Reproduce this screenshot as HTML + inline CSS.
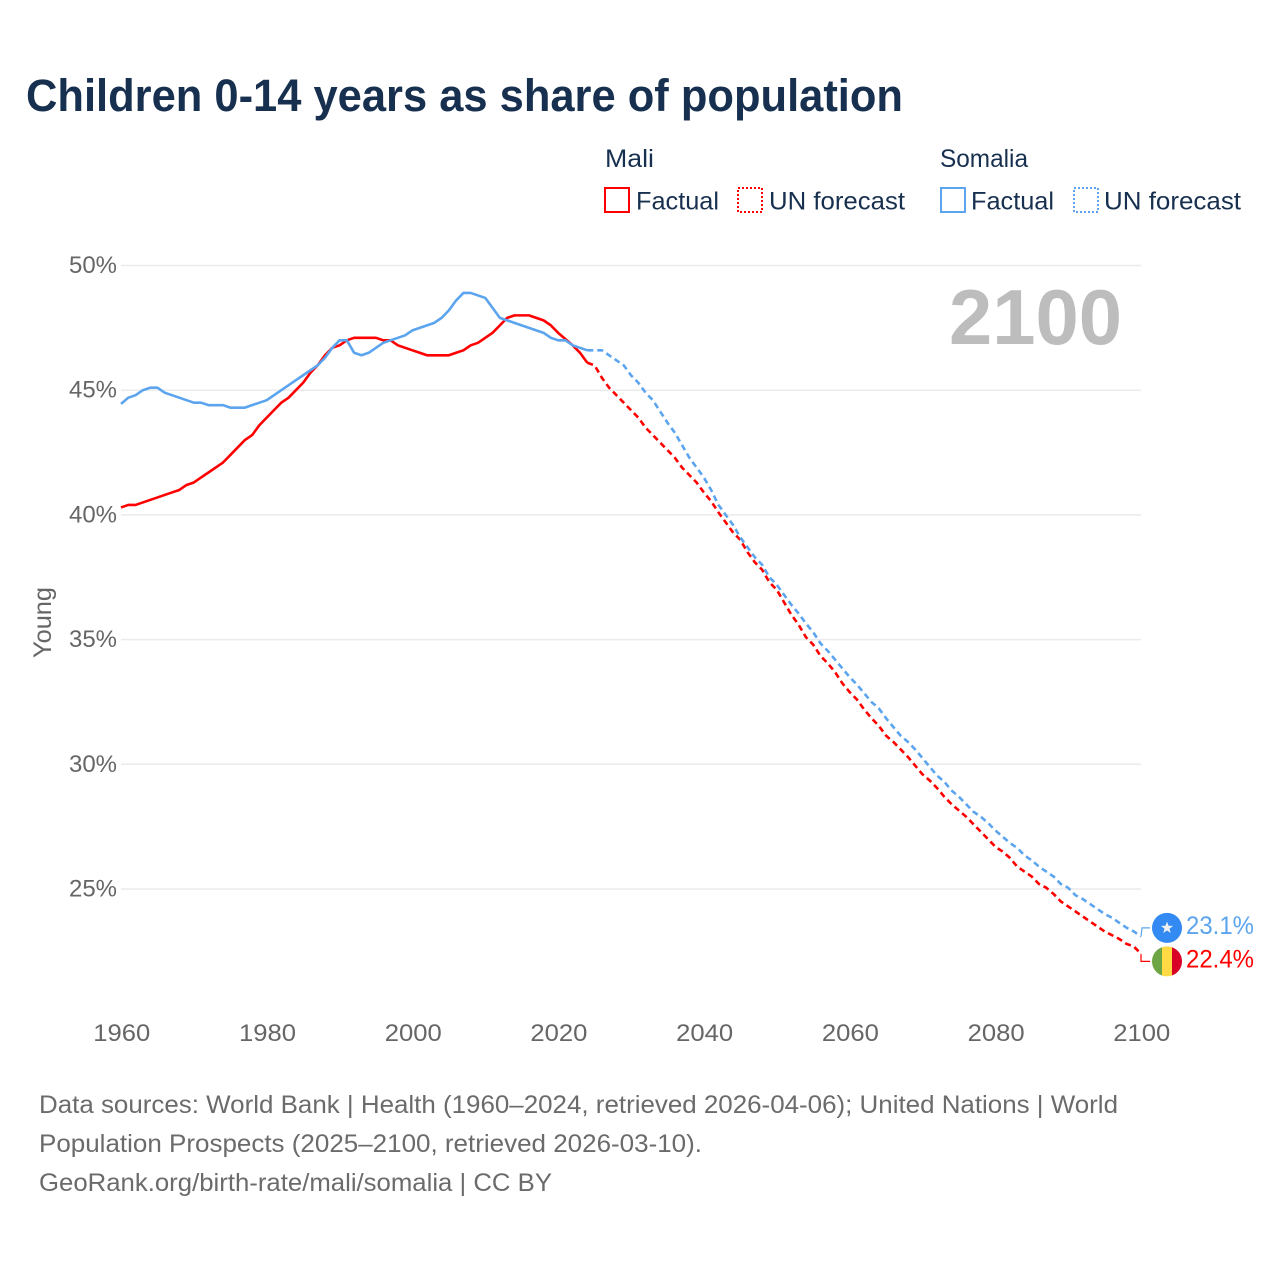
<!DOCTYPE html>
<html lang="en">
<head>
<meta charset="utf-8">
<title>Children 0-14 years as share of population</title>
<style>
html,body{margin:0;padding:0;background:#fff;width:1280px;height:1280px;overflow:hidden}
svg{display:block;font-family:"Liberation Sans",sans-serif}
</style>
</head>
<body>
<svg id="chart" xmlns="http://www.w3.org/2000/svg" width="1280" height="1280" viewBox="0 0 1280 1280">
  <rect x="0" y="0" width="1280" height="1280" fill="#ffffff"/>
  <text x="26" y="111" font-size="45" font-weight="700" fill="#18304f" textLength="877" lengthAdjust="spacingAndGlyphs">Children 0-14 years as share of population</text>

  <g font-size="25" fill="#18304f">
    <text x="605" y="167" textLength="49" lengthAdjust="spacingAndGlyphs">Mali</text>
    <text x="940" y="167" textLength="88" lengthAdjust="spacingAndGlyphs">Somalia</text>
    <rect x="605" y="188" width="24" height="24" fill="none" stroke="#ff0000" stroke-width="2"/>
    <text x="636" y="209.5" textLength="83" lengthAdjust="spacingAndGlyphs">Factual</text>
    <rect x="738" y="188" width="24" height="24" fill="none" stroke="#ff0000" stroke-width="2" stroke-dasharray="2 2"/>
    <text x="769" y="209.5" textLength="136" lengthAdjust="spacingAndGlyphs">UN forecast</text>
    <rect x="941" y="188" width="24" height="24" fill="none" stroke="#5ca5ee" stroke-width="2"/>
    <text x="971" y="209.5" textLength="83" lengthAdjust="spacingAndGlyphs">Factual</text>
    <rect x="1074" y="188" width="24" height="24" fill="none" stroke="#5ca5ee" stroke-width="2" stroke-dasharray="2 2"/>
    <text x="1104" y="209.5" textLength="137" lengthAdjust="spacingAndGlyphs">UN forecast</text>
  </g>

  <g id="grid"></g>
  <g id="yticks"></g>
  <g id="xticks"></g>
  <text transform="translate(51,658) rotate(-90)" font-size="25" fill="#666666" textLength="71" lengthAdjust="spacingAndGlyphs">Young</text>
  <text x="949" y="344" font-size="78" font-weight="700" fill="#bdbdbd" textLength="173" lengthAdjust="spacingAndGlyphs">2100</text>
  <g id="series"></g>
  <g id="ends"></g>

  <g font-size="25" fill="#6b6b6b">
    <text x="39" y="1113" textLength="1079" lengthAdjust="spacingAndGlyphs">Data sources: World Bank | Health (1960–2024, retrieved 2026-04-06); United Nations | World</text>
    <text x="39" y="1152" textLength="663" lengthAdjust="spacingAndGlyphs">Population Prospects (2025–2100, retrieved 2026-03-10).</text>
    <text x="39" y="1191" textLength="513" lengthAdjust="spacingAndGlyphs">GeoRank.org/birth-rate/mali/somalia | CC BY</text>
  </g>
</svg>
<script>
const factualYears = [1960,1961,1962,1963,1964,1965,1966,1967,1968,1969,
  1970,1971,1972,1973,1974,1975,1976,1977,1978,1979,
  1980,1981,1982,1983,1984,1985,1986,1987,1988,1989,
  1990,1991,1992,1993,1994,1995,1996,1997,1998,1999,
  2000,2001,2002,2003,2004,2005,2006,2007,2008,2009,
  2010,2011,2012,2013,2014,2015,2016,2017,2018,2019,
  2020,2021,2022,2023,2024];
const forecastYears = [2024,2025,2026,2027,2028,2029,
  2030,2031,2032,2033,2034,2035,2036,2037,2038,2039,
  2040,2041,2042,2043,2044,2045,2046,2047,2048,2049,
  2050,2051,2052,2053,2054,2055,2056,2057,2058,2059,
  2060,2061,2062,2063,2064,2065,2066,2067,2068,2069,
  2070,2071,2072,2073,2074,2075,2076,2077,2078,2079,
  2080,2081,2082,2083,2084,2085,2086,2087,2088,2089,
  2090,2091,2092,2093,2094,2095,2096,2097,2098,2099,
  2100];
const maliFactual = [40.3,40.4,40.4,40.5,40.6,40.7,40.8,40.9,41.0,41.2,
  41.3,41.5,41.7,41.9,42.1,42.4,42.7,43.0,43.2,43.6,
  43.9,44.2,44.5,44.7,45.0,45.3,45.7,46.0,46.4,46.7,
  46.8,47.0,47.1,47.1,47.1,47.1,47.0,47.0,46.8,46.7,
  46.6,46.5,46.4,46.4,46.4,46.4,46.5,46.6,46.8,46.9,
  47.1,47.3,47.6,47.9,48.0,48.0,48.0,47.9,47.8,47.6,
  47.3,47.05,46.8,46.5,46.1];
const somaliaFactual = [44.45,44.7,44.8,45.0,45.1,45.1,44.9,44.8,44.7,44.6,
  44.5,44.5,44.4,44.4,44.4,44.3,44.3,44.3,44.4,44.5,
  44.6,44.8,45.0,45.2,45.4,45.6,45.8,46.0,46.3,46.7,
  47.0,47.0,46.5,46.4,46.5,46.7,46.9,47.0,47.1,47.2,
  47.4,47.5,47.6,47.7,47.9,48.2,48.6,48.9,48.9,48.8,
  48.7,48.3,47.9,47.8,47.7,47.6,47.5,47.4,47.3,47.1,
  47.0,47.0,46.8,46.7,46.6];
const maliForecast = [46.1,46.0,45.5,45.1,44.8,44.5,
  44.2,43.9,43.5,43.2,42.9,42.6,42.3,41.9,41.6,41.3,
  40.9,40.55,40.1,39.7,39.3,39.0,38.5,38.1,37.8,37.3,
  37.0,36.5,36.0,35.6,35.1,34.8,34.35,34.05,33.7,33.25,
  32.9,32.6,32.2,31.85,31.55,31.15,30.9,30.6,30.3,29.95,
  29.6,29.35,29.05,28.7,28.4,28.15,27.9,27.6,27.3,27.0,
  26.7,26.5,26.25,25.9,25.7,25.5,25.2,25.05,24.8,24.5,
  24.3,24.1,23.9,23.7,23.5,23.3,23.15,23.0,22.8,22.7,
  22.4];
const somaliaForecast = [46.6,46.6,46.6,46.4,46.2,46.0,
  45.6,45.3,44.9,44.6,44.15,43.7,43.3,42.8,42.3,41.9,
  41.5,41.0,40.4,40.0,39.6,39.1,38.7,38.3,38.0,37.5,
  37.2,36.8,36.4,36.05,35.65,35.3,34.85,34.55,34.2,33.85,
  33.5,33.2,32.85,32.5,32.25,31.85,31.5,31.15,30.9,30.6,
  30.25,29.9,29.55,29.3,28.95,28.7,28.4,28.1,27.9,27.65,
  27.35,27.1,26.85,26.65,26.35,26.15,25.9,25.7,25.5,25.2,
  25.05,24.75,24.6,24.4,24.2,24.0,23.85,23.65,23.45,23.3,
  23.1];
const yTickValues = [50,45,40,35,30,25];
const yTickLabels = ["50%","45%","40%","35%","30%","25%"];
const xTickValues = [1960,1980,2000,2020,2040,2060,2080,2100];
const xTickLabels = ["1960","1980","2000","2020","2040","2060","2080","2100"];
const endLabelMali = "22.4%";
const endLabelSomalia = "23.1%";

const NS = "http://www.w3.org/2000/svg";
function xScale(year){ return 121 + (year - 1960) * (1141 - 121) / 140; }
function yScale(v){ return 265.5 + (50 - v) * (889 - 265.5) / 25; }
function make(tag, parent){ const el = document.createElementNS(NS, tag); document.getElementById(parent).appendChild(el); return el; }
function pathFrom(years, values){
  return values.map(function(v, i){ return (i ? "L" : "M") + xScale(years[i]).toFixed(2) + " " + yScale(v).toFixed(2); }).join("");
}

yTickValues.forEach(function(v, i){
  const line = make("line", "grid");
  
  
  line.setAttribute("x1", 121);
  line.setAttribute("x2", 1141);
  line.setAttribute("y1", yScale(v));
  line.setAttribute("y2", yScale(v));
  line.setAttribute("stroke", "#ebebeb");
  line.setAttribute("stroke-width", "1.5");
  const t = make("text", "yticks");
  
  
  t.setAttribute("x", 69);
  t.setAttribute("y", yScale(v) + 7.5);
  t.setAttribute("font-size", "24");
  t.setAttribute("fill", "#666666");
  t.setAttribute("textLength", "48");
  t.setAttribute("lengthAdjust", "spacingAndGlyphs");
  t.textContent = yTickLabels[i];
});

xTickValues.forEach(function(v, i){
  const t = make("text", "xticks");
  
  
  t.setAttribute("x", xScale(v) - 27.7);
  t.setAttribute("y", 1041);
  t.setAttribute("font-size", "24");
  t.setAttribute("fill", "#666666");
  t.setAttribute("textLength", "57");
  t.setAttribute("lengthAdjust", "spacingAndGlyphs");
  t.textContent = xTickLabels[i];
});

const maliColor = "#ff0000";
const somaliaColor = "#5ca5ee";

const maliForecastLine = make("path", "series");


maliForecastLine.setAttribute("d", pathFrom(forecastYears, maliForecast));
maliForecastLine.setAttribute("fill", "none");
maliForecastLine.setAttribute("stroke", maliColor);
maliForecastLine.setAttribute("stroke-width", "2.6");
maliForecastLine.setAttribute("stroke-dasharray", "6 4");

const somaliaForecastLine = make("path", "series");


somaliaForecastLine.setAttribute("d", pathFrom(forecastYears, somaliaForecast));
somaliaForecastLine.setAttribute("fill", "none");
somaliaForecastLine.setAttribute("stroke", somaliaColor);
somaliaForecastLine.setAttribute("stroke-width", "2.6");
somaliaForecastLine.setAttribute("stroke-dasharray", "6 4");

const maliFactualLine = make("path", "series");


maliFactualLine.setAttribute("d", pathFrom(factualYears, maliFactual));
maliFactualLine.setAttribute("fill", "none");
maliFactualLine.setAttribute("stroke", maliColor);
maliFactualLine.setAttribute("stroke-width", "2.6");
maliFactualLine.setAttribute("stroke-linejoin", "round");

const somaliaFactualLine = make("path", "series");


somaliaFactualLine.setAttribute("d", pathFrom(factualYears, somaliaFactual));
somaliaFactualLine.setAttribute("fill", "none");
somaliaFactualLine.setAttribute("stroke", somaliaColor);
somaliaFactualLine.setAttribute("stroke-width", "2.6");
somaliaFactualLine.setAttribute("stroke-linejoin", "round");

const endX = xScale(2100);
const maliEndY = yScale(maliForecast[maliForecast.length - 1]);
const somaliaEndY = yScale(somaliaForecast[somaliaForecast.length - 1]);
const maliIconY = maliEndY + 7.5;
const somaliaIconY = somaliaEndY - 8.5;
const iconX = 1167;

const somaliaConnector = make("path", "ends");


somaliaConnector.setAttribute("d", "M" + endX + " " + somaliaEndY + "L" + (endX + 1) + " " + somaliaIconY + "L" + (iconX - 17) + " " + somaliaIconY);
somaliaConnector.setAttribute("fill", "none");
somaliaConnector.setAttribute("stroke", somaliaColor);
somaliaConnector.setAttribute("stroke-width", "1.2");

const maliConnector = make("path", "ends");


maliConnector.setAttribute("d", "M" + endX + " " + maliEndY + "L" + endX + " " + maliIconY + "L" + (iconX - 17) + " " + maliIconY);
maliConnector.setAttribute("fill", "none");
maliConnector.setAttribute("stroke", maliColor);
maliConnector.setAttribute("stroke-width", "1.2");

const somaliaFlag = make("circle", "ends");


somaliaFlag.setAttribute("cx", iconX);
somaliaFlag.setAttribute("cy", somaliaIconY);
somaliaFlag.setAttribute("r", 15);
somaliaFlag.setAttribute("fill", "#338af3");

const somaliaStar = make("polygon", "ends");


const starPts = [];
for (let i = 0; i < 10; i++) {
  const r = i % 2 ? 2.6 : 6.4;
  const a = -Math.PI / 2 + i * Math.PI / 5;
  starPts.push((iconX + r * Math.cos(a)).toFixed(2) + "," + (somaliaIconY + r * Math.sin(a)).toFixed(2));
}
somaliaStar.setAttribute("points", starPts.join(" "));
somaliaStar.setAttribute("fill", "#f0f0f0");

const maliGreen = make("path", "ends");


maliGreen.setAttribute("d", "M" + (iconX - 5) + " " + (maliIconY - 14.14) + "A15 15 0 0 0 " + (iconX - 5) + " " + (maliIconY + 14.14) + "Z");
maliGreen.setAttribute("fill", "#6da544");

const maliYellow = make("path", "ends");


maliYellow.setAttribute("d", "M" + (iconX - 5) + " " + (maliIconY - 14.14) + "A15 15 0 0 1 " + (iconX + 5) + " " + (maliIconY - 14.14) + "L" + (iconX + 5) + " " + (maliIconY + 14.14) + "A15 15 0 0 1 " + (iconX - 5) + " " + (maliIconY + 14.14) + "Z");
maliYellow.setAttribute("fill", "#ffda44");

const maliRed = make("path", "ends");


maliRed.setAttribute("d", "M" + (iconX + 5) + " " + (maliIconY - 14.14) + "A15 15 0 0 1 " + (iconX + 5) + " " + (maliIconY + 14.14) + "Z");
maliRed.setAttribute("fill", "#d80027");

const somaliaValue = make("text", "ends");


somaliaValue.setAttribute("x", 1186);
somaliaValue.setAttribute("y", somaliaIconY + 6);
somaliaValue.setAttribute("font-size", "25");
somaliaValue.setAttribute("fill", somaliaColor);
somaliaValue.setAttribute("textLength", "68");
somaliaValue.setAttribute("lengthAdjust", "spacingAndGlyphs");
somaliaValue.textContent = endLabelSomalia;

const maliValue = make("text", "ends");


maliValue.setAttribute("x", 1186);
maliValue.setAttribute("y", maliIconY + 6);
maliValue.setAttribute("font-size", "25");
maliValue.setAttribute("fill", maliColor);
maliValue.setAttribute("textLength", "68");
maliValue.setAttribute("lengthAdjust", "spacingAndGlyphs");
maliValue.textContent = endLabelMali;
</script>
</body>
</html>
